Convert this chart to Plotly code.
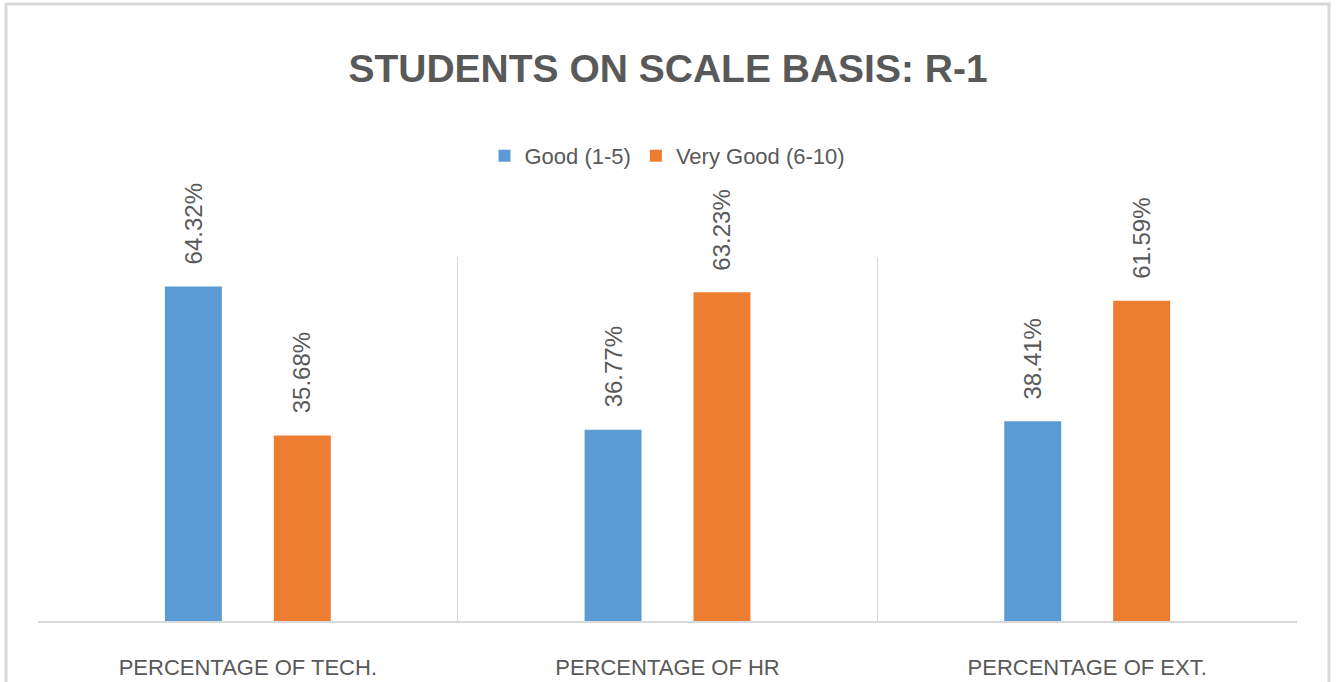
import plotly.graph_objects as go

categories = ["PERCENTAGE OF TECH.", "PERCENTAGE OF HR", "PERCENTAGE OF EXT."]
series_names = ["Good (1-5)", "Very Good (6-10)"]
good = [64.32, 36.77, 38.41]
very_good = [35.68, 63.23, 61.59]
colors = ["#5B9BD5", "#ED7D31"]

FONT = "Liberation Sans, Arial, sans-serif"
GRAY = "#595959"
LINE = "#D9D9D9"
BARGAP = 0.481
BARGROUPGAP = 0.477

W, H = 1336, 682
ML, MR, MT, MB = 38, 39, 257, 61

idx = list(range(len(categories)))
fig = go.Figure()
for name, vals, col in zip(series_names, [good, very_good], colors):
    fig.add_trace(go.Bar(x=idx, y=vals, name=name, marker=dict(color=col, line=dict(width=0))))

# data labels above bars
slot = (1 - BARGAP) / len(series_names)
annotations = []
for k, vals in enumerate([good, very_good]):
    off = -(1 - BARGAP) / 2 + slot * (k + 0.5)
    for i, v in zip(idx, vals):
        annotations.append(dict(
            x=i + off, y=v, xref="x", yref="y", text=f"{v:.2f}%",
            showarrow=False, textangle=-90, yanchor="bottom", xanchor="center",
            yshift=20, font=dict(family=FONT, size=24, color=GRAY)))

pw = W - ML - MR
ph = H - MT - MB
shapes = [dict(type="rect", xref="paper", yref="paper",
               x0=(6 - ML) / pw, x1=(W - 7 - ML) / pw,
               y0=-0.5, y1=(H - MB - 4) / ph,
               line=dict(color=LINE, width=3), layer="below")]

fig.update_layout(
    width=W, height=H,
    margin=dict(l=ML, r=MR, t=MT, b=MB, autoexpand=False),
    paper_bgcolor="white", plot_bgcolor="white",
    barmode="group", bargap=BARGAP, bargroupgap=BARGROUPGAP,
    title=dict(text="STUDENTS ON SCALE BASIS: R-1", x=0.5, xanchor="center",
               xref="container", y=1 - 68 / H, yanchor="middle", yref="container",
               font=dict(family=FONT, size=39, color=GRAY, weight="bold")),
    legend=dict(orientation="h", x=0.5, xanchor="center", y=(H - MB - 156) / ph,
                yanchor="middle", font=dict(family=FONT, size=22, color=GRAY),
                itemwidth=30, traceorder="normal"),
    xaxis=dict(range=[-0.5, len(categories) - 0.5], tickvals=idx, ticktext=categories,
               showgrid=False, zeroline=False, showline=True, linecolor=LINE, linewidth=2,
               ticks="", ticklabelstandoff=26, automargin=False,
               tickfont=dict(family=FONT, size=22, color=GRAY),
               minor=dict(tickvals=[i - 0.5 for i in range(len(categories) + 1)],
                          showgrid=True, gridcolor=LINE, gridwidth=1, ticks="")),
    yaxis=dict(range=[0, 70], showgrid=False, zeroline=False, showticklabels=False,
               showline=False, automargin=False),
    annotations=annotations,
    shapes=shapes,
    showlegend=True,
)

fig.write_html("out.html", config={"displayModeBar": False},
               post_script="document.body.style.margin='0';document.body.style.overflow='hidden';")
